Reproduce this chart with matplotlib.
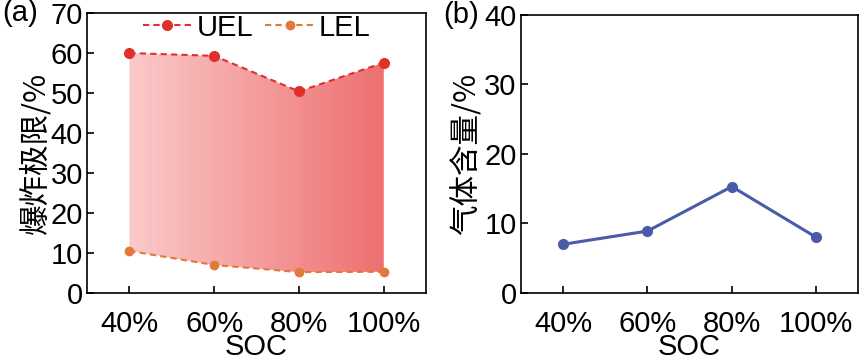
import matplotlib
matplotlib.use("Agg")
import matplotlib.pyplot as plt
import numpy as np
from matplotlib.colors import LinearSegmentedColormap

plt.rcParams["font.family"] = ["Liberation Sans", "Noto Sans CJK SC", "DejaVu Sans"]

# Datos
soc = ["40%", "60%", "80%", "100%"]
uel = [60.0, 59.3, 50.4, 57.6]
lel = [10.5, 7.0, 5.2, 5.3]
gas = [7.0, 8.9, 15.3, 8.0]

x = np.arange(len(soc))

fig = plt.figure(figsize=(8.61, 3.63), dpi=100)
ax1 = fig.add_axes([0.101, 0.193, 0.394, 0.771])
ax2 = fig.add_axes([0.605, 0.193, 0.392, 0.766])

fs = 21
cjk = ["Noto Sans CJK SC", "DejaVu Sans"]

# (a) limites de explosividad
poly = ax1.fill_between(x, lel, uel, color="none", lw=0)
cmap = LinearSegmentedColormap.from_list("rojo", ["#fbcaca", "#ee7070"])
grad = np.linspace(0, 1, 256).reshape(1, -1)
img = ax1.imshow(grad, cmap=cmap, aspect="auto", extent=[x[0], x[-1], 0, 70],
                 origin="lower", zorder=1)
path = poly.get_paths()[0]
img.set_clip_path(path, transform=ax1.transData)

ax1.plot(x, uel, "--", color="#e0302c", lw=1.5, dashes=(3, 2), marker="o", ms=7,
         label="UEL", zorder=3)
ax1.plot(x, lel, "--", color="#e2793a", lw=1.5, dashes=(3, 2), marker="o", ms=6,
         label="LEL", zorder=3)
ax1.set_xlim(-0.5, 3.5)
ax1.set_ylim(0, 70)
ax1.set_yticks(range(0, 71, 10))
ax1.set_ylabel("爆炸极限/%", fontsize=22, family=cjk, labelpad=-1, fontweight="light")
leg = ax1.legend(loc="upper center", ncol=2, frameon=False, fontsize=fs,
                 handlelength=1.7, handletextpad=0.15, columnspacing=0.4,
                 borderaxespad=0.0, bbox_to_anchor=(0.5, 1.04))
ax1.text(-0.25, 1.0, "(a)", transform=ax1.transAxes, fontsize=fs, va="center", ha="left")

# (b) contenido de gas
ax2.plot(x, gas, "-", color="#4a5ba8", lw=2.2, marker="o", ms=7)
ax2.set_xlim(-0.5, 3.5)
ax2.set_ylim(0, 40)
ax2.set_yticks(range(0, 41, 10))
ax2.set_ylabel("气体含量/%", fontsize=22, family=cjk, labelpad=1, fontweight="light")
ax2.text(-0.23, 1.0, "(b)", transform=ax2.transAxes, fontsize=fs, va="center", ha="left")

for ax in (ax1, ax2):
    ax.set_xticks(x)
    ax.set_xticklabels(soc)
    ax.set_xlabel("SOC", fontsize=fs, labelpad=-3)
    ax.tick_params(direction="in", labelsize=fs, length=5, width=1.2, pad=3)
    ax.tick_params(axis="x", pad=12)
    for s in ax.spines.values():
        s.set_linewidth(1.2)

fig.savefig("out.png", dpi=100)
